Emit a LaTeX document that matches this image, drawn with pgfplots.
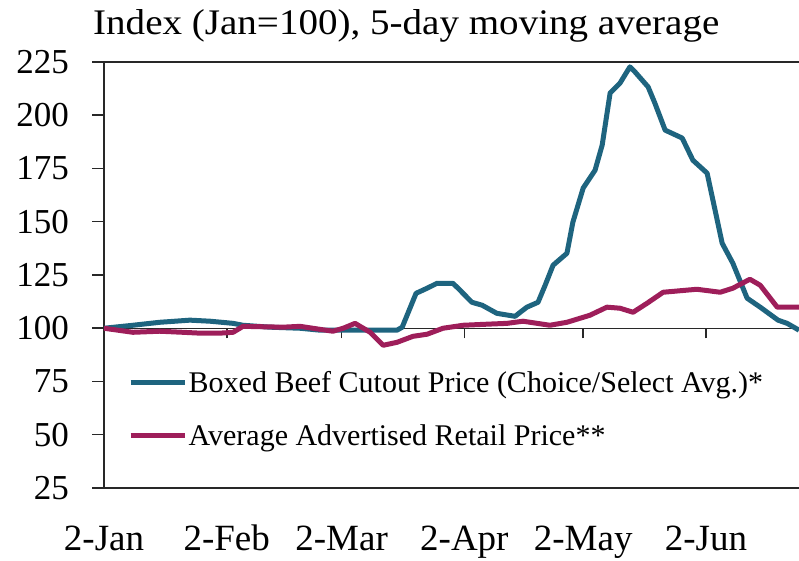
\documentclass[border=0pt]{standalone}
\usepackage{pgfplots}
\pgfplotsset{compat=1.18}
\usepackage{pgfplotstable}
\usepackage{fontspec}
\setmainfont{Liberation Serif}
\definecolor{beef}{RGB}{30,100,127}
\definecolor{retail}{RGB}{158,30,90}
\definecolor{axl}{RGB}{40,40,40}

\pgfplotstableread{
day value
0 100
7.3 101.4
14.1 102.8
21.7 103.8
26.8 103.3
32.6 102.3
35.1 101.4
41.9 100.5
49.5 100
54.5 99.1
59.6 99.1
67.2 99.1
74.0 99.1
75.3 100.5
78.8 116.4
81.6 118.8
84.1 121.1
88.1 121.1
89.4 118.8
92.9 112.2
95.5 110.8
99.2 107.0
103.8 105.6
105.8 108.5
106.8 109.9
109.6 112.2
111.4 120.2
113.4 129.6
116.9 135.2
118.4 149.8
121.0 165.8
124.0 174.2
125.8 186.0
127.8 210.4
130.3 215.1
132.8 222.7
134.1 220.3
137.4 213.3
139.1 205.7
141.7 193.0
146.0 189.3
148.7 178.9
152.3 172.8
156.1 139.9
158.8 130.5
162.4 114.1
165.7 109.9
170.2 103.8
172.5 102.3
175.5 99.1
}\beef

\pgfplotstableread{
day value
0 100
7.3 98.1
14.1 98.6
19.9 98.1
24.2 97.7
29.3 97.7
32.6 98.1
35.1 100.9
45.2 100.5
49.5 100.9
54.5 99.5
57.8 98.6
60.4 100
63.4 102.3
67.2 98.1
70.5 92.0
74.0 93.4
78.0 96.2
81.6 97.2
85.6 100
90.7 101.4
96.7 101.9
101.8 102.3
105.8 103.3
112.6 101.4
116.9 102.8
122.7 106.1
127.0 109.9
130.3 109.4
133.6 107.5
137.1 111.7
141.2 116.9
149.7 118.3
155.6 116.9
158.8 118.8
163.1 123.0
165.7 120.2
170.0 109.9
175.5 109.9
}\retail

\begin{document}
\begin{tikzpicture}
\path[use as bounding box] (0,0) rectangle (799bp,561bp);

% x axis line at 100 with date ticks
\begin{axis}[
  at={(104bp,232.75bp)}, anchor=south west,
  scale only axis, width=695bp, height=266.25bp,
  xmin=0, xmax=175.5, ymin=100, ymax=225,
  axis x line*=bottom, axis y line=none,
  axis line style={line width=1.5bp, axl},
  xtick={0,31,60,91,121,152},
  xticklabels={2-Jan,2-Feb,2-Mar,2-Apr,2-May,2-Jun},
  xtick align=outside, major tick length=10bp,
  tick style={line width=1.5bp, axl},
  xticklabel style={anchor=base, yshift=-212bp, inner sep=0pt,
    font=\fontsize{37bp}{42bp}\selectfont},
]
\end{axis}

\begin{axis}[
  at={(104bp,73bp)}, anchor=south west,
  scale only axis, width=695bp, height=426bp,
  xmin=0, xmax=175.5, ymin=25, ymax=225,
  axis x line*=bottom, axis y line*=left,
  axis line style={line width=1.5bp, axl},
  xtick=\empty,
  ytick={25,50,...,225},
  ytick align=outside, major tick length=12bp,
  tick style={line width=1.5bp, axl},
  yticklabel style={anchor=east, inner sep=0pt, xshift=-23bp,
    font=\fontsize{35bp}{40bp}\selectfont},
  /pgf/number format/assume math mode=true,
  extra y ticks={225}, extra y tick labels={},
  extra y tick style={grid=major, major grid style={solid, line width=1.5bp, axl}},
  legend style={at={(axis cs:6.06,62)}, anchor=west, draw=none, fill=none,
    inner sep=0pt, row sep=28bp,
    nodes={inner sep=1.5bp},
    font=\fontsize{30bp}{34bp}\selectfont},
  legend cell align=left,
  legend image code/.code={\draw[#1, line width=5bp] (0bp,0bp) -- (54bp,0bp);},
]
\addplot[beef, line width=5bp, line join=round] table[x=day, y=value] {\beef};
\addlegendentry{Boxed Beef Cutout Price (Choice/Select Avg.)*}
\addplot[retail, line width=5bp, line join=round] table[x=day, y=value] {\retail};
\addlegendentry{Average Advertised Retail Price**}
\end{axis}

\node[anchor=base west, inner sep=0pt, font=\fontsize{36bp}{40bp}\selectfont]
  at (93bp,526bp) {\scalebox{1.085}[1]{Index (Jan=100), 5-day moving average}};
\end{tikzpicture}
\end{document}
